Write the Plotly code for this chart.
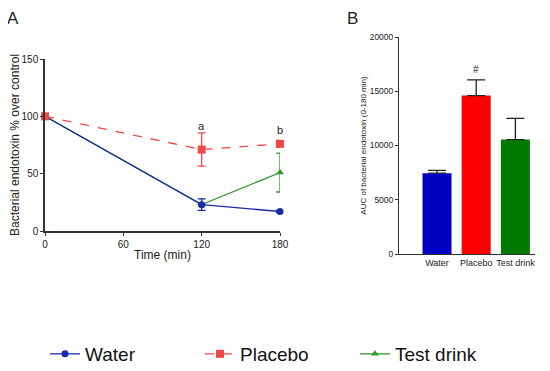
import plotly.graph_objects as go

# Panel A data
time_min = [0, 120, 180]
water_pct = [100, 23, 17]
water_err = [0, 5, 1]
placebo_pct = [100, 71, 76]
placebo_err = [0, 14.5, 3]
test_pct = [100, 23, 51]
test_err = [0, 0, 17]

# Panel B data
groups = ["Water", "Placebo", "Test drink"]
auc = [7450, 14600, 10550]
auc_err = [250, 1450, 1950]

col_water = "#1a2aa6"
col_placebo = "#f04848"
col_test = "#2e9a2e"
bar_cols = ["#0000c0", "#ff0000", "#007a00"]

W, H = 550, 371
OFF = 8  # page body offset


def px_x(p):
    return (p - OFF) / W


def px_y(p):
    return 1 - (p - OFF) / H


fig = go.Figure()

fig.add_trace(go.Scatter(
    x=time_min, y=test_pct, name="Test drink", mode="lines+markers", legendrank=3,
    line=dict(color=col_test, width=1.3), cliponaxis=False,
    marker=dict(symbol="triangle-up", size=7, color=col_test),
    error_y=dict(type="data", array=test_err, color=col_test, thickness=1.3, width=4),
    xaxis="x", yaxis="y"))
fig.add_trace(go.Scatter(
    x=time_min, y=water_pct, name="Water", mode="lines+markers", legendrank=1,
    line=dict(color=col_water, width=1.3), cliponaxis=False,
    marker=dict(symbol="circle", size=7, color=col_water),
    error_y=dict(type="data", array=water_err, color=col_water, thickness=1.3, width=4),
    xaxis="x", yaxis="y"))
fig.add_trace(go.Scatter(
    x=time_min, y=placebo_pct, name="Placebo", mode="lines+markers", legendrank=2,
    line=dict(color=col_placebo, width=1.3, dash="dash"), cliponaxis=False,
    marker=dict(symbol="square", size=8, color=col_placebo),
    error_y=dict(type="data", array=placebo_err, color=col_placebo, thickness=1.3, width=4),
    xaxis="x", yaxis="y"))

fig.add_trace(go.Bar(
    x=groups, y=auc, marker=dict(color=bar_cols, line=dict(width=0)),
    width=0.74, showlegend=False,
    error_y=dict(type="data", symmetric=False, array=auc_err, arrayminus=[0, 0, 0],
                 color="#222222", thickness=1.3, width=9),
    xaxis="x2", yaxis="y2"))

fig.update_layout(
    width=W, height=H,
    margin=dict(l=0, r=0, t=0, b=0),
    paper_bgcolor="white", plot_bgcolor="white",
    font=dict(family="Liberation Sans, Arial, sans-serif", color="#222222"),
    showlegend=True,
    legend=dict(orientation="h", x=px_x(45), xanchor="left", y=px_y(354), yanchor="middle",
                font=dict(size=19, color="#111111"),
                traceorder="normal", entrywidth=110, entrywidthmode="pixels",
                itemwidth=30),
    xaxis=dict(domain=[px_x(45), px_x(280)], range=[0, 180], tickvals=[0, 60, 120, 180],
               showline=True, linecolor="#333333", linewidth=1.5, ticks="outside",
               ticklen=3, tickcolor="#333333", showgrid=False, zeroline=False,
               automargin=False,
               tickfont=dict(size=10), title=dict(text="Time (min)", font=dict(size=12), standoff=2),
               anchor="y"),
    yaxis=dict(domain=[px_y(231), px_y(59)], range=[0, 150], tickvals=[0, 50, 100, 150],
               showline=True, linecolor="#333333", linewidth=1.5, ticks="outside",
               ticklen=3, tickcolor="#333333", showgrid=False, zeroline=False,
               automargin=False,
               tickfont=dict(size=10),
               title=dict(text="Bacterial endotoxin % over control", font=dict(size=12), standoff=2),
               anchor="x"),
    xaxis2=dict(domain=[px_x(399), px_x(535)], range=[-0.97, 2.5], type="category",
                showline=True, linecolor="#333333", linewidth=1, ticks="",
                showgrid=False, zeroline=False, tickfont=dict(size=9), anchor="y2",
                automargin=False),
    yaxis2=dict(domain=[px_y(254), px_y(37)], range=[0, 20000],
                tickvals=[0, 5000, 10000, 15000, 20000], tickformat="d",
                showline=True, linecolor="#333333", linewidth=1, ticks="outside",
                ticklen=3, tickcolor="#333333", showgrid=False, zeroline=False,
                tickfont=dict(size=8.5), automargin=False,
                title=dict(text="AUC of bacterial endotoxin (0-180 min)", font=dict(size=8), standoff=1),
                anchor="x2"),
    annotations=[
        dict(text="A", x=px_x(5), y=px_y(18), xref="paper", yref="paper", xanchor="left",
             yanchor="middle", showarrow=False, font=dict(size=17)),
        dict(text="B", x=px_x(345), y=px_y(19), xref="paper", yref="paper", xanchor="left",
             yanchor="middle", showarrow=False, font=dict(size=17)),
        dict(text="a", x=120, y=92, xref="x", yref="y", showarrow=False,
             yanchor="middle", font=dict(size=11)),
        dict(text="b", x=180, y=88, xref="x", yref="y", showarrow=False,
             yanchor="middle", font=dict(size=11)),
        dict(text="#", x="Placebo", y=16040, xref="x2", yref="y2", showarrow=False,
             yanchor="bottom", yshift=3, font=dict(size=10)),
    ],
)

fig.write_html("out.html")
